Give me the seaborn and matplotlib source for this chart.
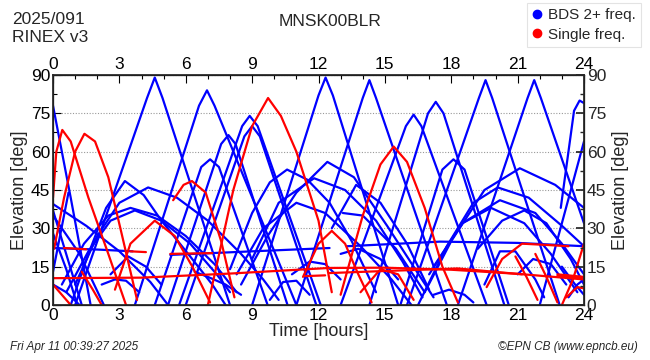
import matplotlib
matplotlib.use('Agg')
import matplotlib.pyplot as plt
import seaborn as sns
import pandas as pd
from matplotlib.ticker import MultipleLocator
from matplotlib.lines import Line2D

# ---------------- data (hour, elevation) ----------------
blue_peaks = [
    [(1.0, 0), (4.25, 81), (4.6, 89), (4.95, 81), (8.0, 0)],
    [(3.7, 0), (6.6, 78), (6.96, 84), (7.3, 78), (11.0, 0)],
    [(5.7, 0), (8.55, 70), (8.89, 74), (9.25, 70), (12.1, 0)],
    [(6.0, 0), (8.65, 66), (9.0, 70), (9.35, 66), (11.9, 0)],
    [(5.2, 0), (7.6, 63), (7.93, 66.5), (8.25, 63), (10.6, 0)],
    [(4.6, 0), (6.7, 54), (7.1, 57), (7.5, 54), (9.7, 0)],
    [(9.0, 0), (12.0, 82), (12.32, 89), (12.65, 82), (15.6, 0)],
    [(11.0, 0), (14.0, 81), (14.3, 88), (14.6, 81), (17.8, 0)],
    [(13.0, 0), (15.95, 70), (16.3, 74.5), (16.65, 70), (19.6, 0)],
    [(14.3, 0), (16.95, 75), (17.3, 79.5), (17.65, 75), (20.4, 0)],
    [(15.7, 0), (17.6, 53), (18.1, 57), (18.6, 53), (20.6, 0)],
    [(16.0, 0), (19.25, 81), (19.55, 88), (19.85, 81), (22.9, 0)],
    [(18.3, 0), (21.45, 81), (21.75, 88), (22.05, 81), (24.0, 32)],
    [(22.95, 38), (23.55, 76), (23.8, 80), (24.0, 79)],
    [(22.0, 0), (24.0, 64)],
]
blue_arcs = [
    [(0.8, 0), (1.6, 20), (2.4, 38), (3.25, 48.5), (4.1, 43), (4.9, 33), (6.2, 19), (7.2, 8), (7.8, 0)],
    [(1.0, 8), (2.0, 27), (3.0, 40), (4.3, 46), (5.6, 42), (7.0, 33), (8.5, 20), (9.5, 10), (10.2, 2)],
    [(0.4, 8), (1.4, 24), (2.5, 35), (3.5, 38), (4.7, 35), (6.0, 27), (7.3, 16), (8.3, 5)],
    [(0.6, 5), (1.6, 21), (2.6, 33), (3.7, 37), (4.9, 33), (6.2, 24), (7.4, 12), (8.0, 5)],
    [(8.0, 14), (9.0, 36), (9.8, 48), (10.58, 53), (11.5, 49), (12.5, 40), (13.5, 25), (14.6, 5)],
    [(9.0, 18), (10.2, 40), (11.8, 49.6), (13.2, 45), (14.6, 33), (15.8, 17), (16.7, 3)],
    [(8.5, 8), (9.7, 27), (11.0, 44), (12.4, 56), (13.6, 50), (15.1, 31), (16.3, 15), (17.2, 3)],
    [(8.3, 12), (9.5, 30), (11.0, 40), (12.3, 36), (13.9, 23), (15.3, 10), (16.2, 0)],
    [(12.6, 30), (13.7, 47), (14.8, 40), (16.0, 24), (17.0, 6)],
    [(13.1, 36), (14.0, 35), (15.5, 22), (16.8, 5)],
    [(16.8, 5), (18.0, 25), (19.5, 45), (21.1, 53.5), (22.7, 47), (24.0, 38)],
    [(16.5, 0), (17.8, 23), (19.0, 40), (20.1, 46), (21.5, 42), (23.0, 31), (24.0, 23)],
    [(17.0, 12), (18.5, 32), (20.2, 41), (21.8, 36), (23.0, 24), (24.0, 12)],
    [(17.2, 15), (18.5, 32), (19.8, 38), (21.3, 32), (22.5, 20), (23.7, 5)],
    [(19.2, 22), (20.3, 33), (21.3, 37), (22.3, 32), (23.4, 18), (24.0, 8)],
]
blue_flat = [
    [(0.0, 22.3), (2.0, 21.7), (3.6, 21.0)],
    [(5.3, 19.6), (9.0, 21.0), (12.5, 22.3)],
    [(13.3, 23.0), (17.5, 24.8), (21.0, 24.3), (24.0, 23.0)],
]
blue_edge = [
    [(0.0, 78), (0.8, 42), (1.7, 0)],
    [(0.0, 39.5), (1.5, 31), (3.0, 21), (4.4, 9), (5.2, 0)],
    [(0.0, 35), (1.2, 20), (2.3, 0)],
    [(0.0, 37), (0.7, 17), (1.3, 0)],
    [(0.0, 28), (0.6, 14), (1.1, 0)],
    [(0.0, 13), (0.7, 44)],
    [(0.0, 8), (0.6, 5), (1.2, 0)],
]
blue_low = [
    [(2.2, 8), (2.8, 10), (3.3, 9.5), (3.9, 5)],
    [(2.6, 12), (3.4, 19), (4.2, 15), (4.9, 8)],
    [(6.4, 13), (7.0, 11), (7.8, 8), (8.5, 4)],
    [(9.8, 2), (10.4, 9), (11.0, 9.5), (11.6, 4)],
    [(10.8, 12), (11.6, 17), (12.3, 16), (13.0, 10)],
    [(13.0, 20), (13.8, 22), (14.8, 18), (15.6, 10)],
    [(17.2, 4), (17.9, 6), (18.6, 4), (19.0, 1)],
    [(19.5, 8), (20.2, 21), (20.9, 21), (21.8, 10), (22.2, 3)],
    [(21.0, 12), (21.7, 18), (22.5, 16), (23.2, 8)],
    [(23.3, 3), (23.7, 8), (24.0, 10)],
    [(23.0, 15), (23.6, 8), (24.0, 4)],
]
red_tracks = [
    [(0.0, 42), (0.15, 60), (0.42, 68.5), (0.8, 64), (1.6, 42), (2.5, 20), (3.3, 0)],
    [(0.05, 22), (0.5, 42), (1.0, 60), (1.42, 67), (1.9, 64), (2.5, 50), (3.1, 28), (3.8, 2)],
    [(2.8, 6), (3.5, 24), (4.6, 33), (5.5, 27), (6.3, 15), (7.1, 1)],
    [(5.43, 41), (5.9, 47), (6.28, 48.5), (6.9, 44), (7.6, 25), (8.2, 3)],
    [(7.0, 0), (8.15, 45), (9.0, 70), (9.72, 81), (10.3, 74), (11.0, 60), (12.0, 33), (12.6, 5)],
    [(11.3, 11), (12.0, 24), (12.6, 29), (13.2, 24), (13.8, 12), (14.4, 1)],
    [(13.0, 4), (14.0, 35), (14.8, 55), (15.4, 62), (16.0, 56), (16.8, 38), (17.6, 15), (18.3, 1)],
    [(19.6, 7), (20.3, 18), (21.2, 24), (22.3, 23.5), (23.3, 23)],
    [(20.9, 19), (21.4, 11), (21.9, 2)],
    [(21.8, 20), (22.3, 11), (22.8, 1)],
    [(23.0, 0), (23.5, 10), (24.0, 24)],
    [(23.2, 3), (23.7, 7), (24.0, 6.5)],
    [(13.9, 5), (14.8, 14), (15.6, 12), (16.3, 2)],
    [(0.0, 8), (0.4, 4), (0.8, 0)],
    [(1.3, 13), (1.8, 6), (2.2, 0)],
]
red_flat = [
    [(0.0, 10.5), (4.0, 10.7), (8.0, 12.3), (12.5, 14.5), (15.0, 14.6), (18.0, 13.8), (21.0, 12.2), (24.0, 10.0)],
    [(12.5, 12.5), (15.0, 13.3), (18.3, 14.3), (21.2, 12.0)],
    [(11.4, 11.3), (12.3, 11.6)],
    [(0.5, 22.3), (1.5, 21.8)],
    [(3.5, 21.0), (4.2, 20.7)],
    [(5.3, 20.0), (7.2, 20.3)],
    [(22.8, 11.5), (24.0, 10.5)],
    [(22.8, 12.0), (24.0, 11.0)],
]

x_ticks = [0, 3, 6, 9, 12, 15, 18, 21, 24]
y_ticks = [0, 15, 30, 45, 60, 75, 90]
legend_labels = ['BDS 2+ freq.', 'Single freq.']

# ---------------- build long table ----------------
rows = []
tid = 0
for kind, groups in (('BDS', [blue_peaks, blue_arcs, blue_flat, blue_edge, blue_low]),
                     ('Single', [red_tracks, red_flat])):
    for g in groups:
        for tr in g:
            for h, e in tr:
                rows.append({'hour': h, 'elev': e, 'track': tid, 'kind': kind})
            tid += 1
df = pd.DataFrame(rows)

sns.set_theme(style='white')
plt.rcParams['font.family'] = ['Liberation Sans', 'DejaVu Sans']

fig = plt.figure(figsize=(6.5, 3.6), dpi=100)
ax = fig.add_axes([53 / 650, 1 - 305 / 360, 531 / 650, 230 / 360])

ax.yaxis.grid(True, linestyle=(0, (1, 1.5)), color='#999999', linewidth=0.8)
ax.set_axisbelow(True)

sns.lineplot(data=df, x='hour', y='elev', hue='kind', units='track', estimator=None,
             sort=False, palette={'BDS': '#0000ff', 'Single': '#ff0000'},
             linewidth=1.6, legend=False, ax=ax)

ax.set_xlim(0, 24)
ax.set_ylim(0, 90)
ax.set_xticks(x_ticks)
ax.set_yticks(y_ticks)
ax.xaxis.set_minor_locator(MultipleLocator(1))
ax.yaxis.set_minor_locator(MultipleLocator(7.5))
ax.tick_params(which='both', direction='in', top=True, right=True, labeltop=True,
               labelsize=12.5, colors='black', pad=2)
ax.tick_params(which='major', length=6, width=0.8)
ax.tick_params(which='minor', length=3, width=0.8)
ax.set_xlabel('Time [hours]', fontsize=13, labelpad=0)
ax.set_ylabel('Elevation [deg]', fontsize=13, labelpad=2)
for s in ax.spines.values():
    s.set_color('black')
    s.set_linewidth(0.9)

ax2 = ax.twinx()
ax2.set_ylim(0, 90)
ax2.set_yticks(y_ticks)
ax2.yaxis.set_minor_locator(MultipleLocator(7.5))
ax2.tick_params(which='both', direction='in', labelsize=12.5, pad=2)
ax2.tick_params(which='major', length=6)
ax2.tick_params(which='minor', length=3)
ax2.set_ylabel('Elevation [deg]', fontsize=13, labelpad=4)
ax2.grid(False)

fig.text(12 / 650, 1 - 24 / 360, '2025/091', fontsize=12.5, va='baseline')
fig.text(12 / 650, 1 - 42 / 360, 'RINEX v3', fontsize=12.5, va='baseline')
fig.text(330 / 650, 1 - 26 / 360, 'MNSK00BLR', fontsize=12.5, va='baseline', ha='center')

handles = [Line2D([], [], marker='o', linestyle='', markersize=6, color='#0000ff'),
           Line2D([], [], marker='o', linestyle='', markersize=6, color='#ff0000')]
leg = fig.legend(handles, legend_labels, loc='upper right', bbox_to_anchor=(641 / 650, 1 - 3 / 360),
                 frameon=True, fancybox=False, fontsize=11, handlelength=0.6, handletextpad=0.4,
                 borderpad=0.35, labelspacing=0.35, borderaxespad=0)
leg.get_frame().set_edgecolor('#dddddd')
leg.get_frame().set_linewidth(0.8)

fig.text(10 / 650, 1 - 347 / 360, 'Fri Apr 11 00:39:27 2025', fontsize=8.5, style='italic', va='center')
fig.text(638 / 650, 1 - 347 / 360, '©EPN CB (www.epncb.eu)', fontsize=8.5, style='italic',
         va='center', ha='right')

fig.savefig('out.png', dpi=100)
